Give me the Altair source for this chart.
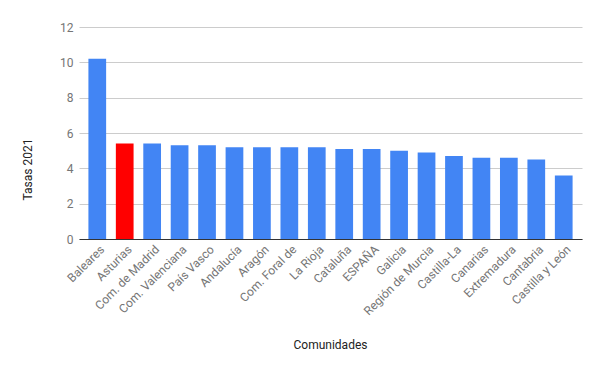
import altair as alt
import pandas as pd

comunidades = ["Baleares", "Asturias", "Com. de Madrid", "Com. Valenciana", "País Vasco",
               "Andalucía", "Aragón", "Com. Foral de", "La Rioja", "Cataluña", "ESPAÑA",
               "Galicia", "Región de Murcia", "Castilla-La", "Canarias", "Extremadura",
               "Cantabria", "Castilla y León"]
tasas = [10.2, 5.4, 5.4, 5.3, 5.3, 5.2, 5.2, 5.2, 5.2, 5.1, 5.1, 5.0, 4.9, 4.7, 4.6, 4.6, 4.5, 3.6]
destacado = ["Asturias"]

df = pd.DataFrame({"Comunidades": comunidades, "Tasas 2021": tasas})
df["grupo"] = ["rojo" if c in destacado else "azul" for c in comunidades]

FONT = "Roboto"

chart = alt.Chart(df).mark_bar(cornerRadius=0).encode(
    x=alt.X("Comunidades:N", sort=comunidades,
            scale=alt.Scale(paddingInner=0.354, paddingOuter=0.343),
            axis=alt.Axis(title="Comunidades", labelAngle=-45, labelAlign="right",
                          labelBaseline="middle", ticks=False, domainColor="#333333",
                          labelColor="#757575", labelFontSize=12, labelFont=FONT,
                          labelPadding=8, labelOffset=5,
                          titleFont=FONT, titleFontSize=12,
                          titleFontWeight="normal", titleColor="#222222",
                          titleX=251, titleY=105, titleBaseline="middle",
                          titleAlign="center")),
    y=alt.Y("Tasas 2021:Q", scale=alt.Scale(domain=[0, 12], nice=False),
            axis=alt.Axis(title="Tasas 2021", values=[0, 2, 4, 6, 8, 10, 12],
                          domain=False, ticks=False, gridColor="#cccccc",
                          labelColor="#757575", labelFontSize=12, labelFont=FONT,
                          labelPadding=6, titleFont=FONT, titleFontSize=12,
                          titleFontWeight="normal", titleColor="#222222",
                          titleX=-52, titleY=142, titleAngle=270,
                          titleBaseline="middle", titleAlign="center")),
    color=alt.Color("grupo:N", scale=alt.Scale(domain=["azul", "rojo"],
                                               range=["#4285F4", "#FF0000"]),
                    legend=None),
).properties(
    width=503, height=212,
    autosize=alt.AutoSizeParams(type="none"),
    padding={"left": 71, "top": 19, "right": 10, "bottom": 124},
).configure_view(stroke=None).configure_axis(gridWidth=1)

chart.save("out.html", embed_options={"renderer": "svg", "actions": False})
